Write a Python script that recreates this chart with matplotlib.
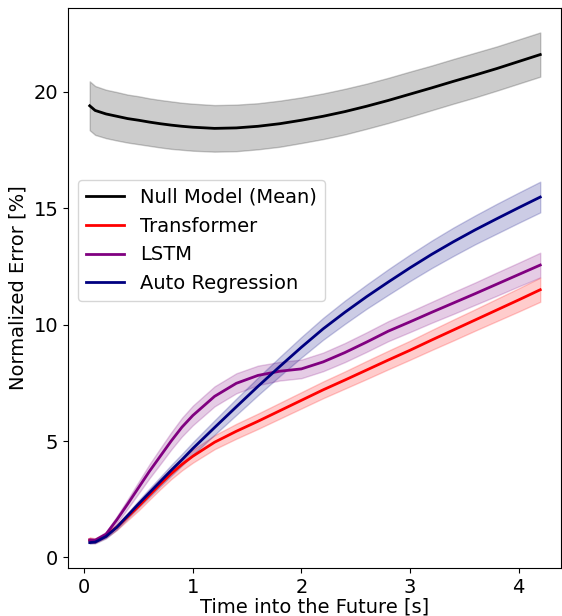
import matplotlib
matplotlib.use("Agg")
import matplotlib.pyplot as plt
import numpy as np

# time steps [s]
t = [0.05, 0.1, 0.2, 0.3, 0.4, 0.5, 0.6, 0.7, 0.8, 0.9, 1.0, 1.2, 1.4, 1.6,
     1.8, 2.0, 2.2, 2.4, 2.6, 2.8, 3.0, 3.2, 3.4, 3.6, 3.8, 4.0, 4.2]

# mean normalized error [%]
null_mean = [19.4, 19.2, 19.05, 18.95, 18.85, 18.78, 18.7, 18.63, 18.57, 18.52,
             18.48, 18.43, 18.45, 18.52, 18.63, 18.78, 18.95, 19.15, 19.38,
             19.63, 19.9, 20.17, 20.45, 20.72, 21.0, 21.3, 21.6]
trans_mean = [0.75, 0.72, 0.95, 1.3, 1.75, 2.2, 2.68, 3.15, 3.6, 4.0, 4.35, 4.95,
              5.42, 5.85, 6.3, 6.75, 7.2, 7.62, 8.05, 8.48, 8.9, 9.34, 9.77,
              10.2, 10.63, 11.06, 11.5]
lstm_mean = [0.75, 0.74, 1.0, 1.62, 2.3, 3.0, 3.7, 4.35, 5.0, 5.6, 6.1, 6.92,
             7.48, 7.82, 8.0, 8.1, 8.4, 8.8, 9.25, 9.72, 10.12, 10.53, 10.93,
             11.33, 11.74, 12.15, 12.56]
ar_mean = [0.64, 0.66, 0.9, 1.3, 1.8, 2.3, 2.78, 3.26, 3.74, 4.2, 4.68, 5.58,
           6.47, 7.35, 8.2, 9.03, 9.82, 10.53, 11.2, 11.83, 12.44, 13.02, 13.56,
           14.07, 14.55, 15.02, 15.48]

# spread (shaded band half-width)
null_std = [1.05, 1.05, 1.04, 1.04, 1.03, 1.03, 1.02, 1.02, 1.02, 1.01, 1.01,
            1.0, 1.0, 0.99, 0.99, 0.98, 0.98, 0.98, 0.97, 0.97, 0.97, 0.96,
            0.96, 0.96, 0.95, 0.95, 0.95]
trans_std = [0.12, 0.1, 0.1, 0.12, 0.15, 0.18, 0.2, 0.22, 0.24, 0.26, 0.28, 0.3,
             0.32, 0.33, 0.34, 0.35, 0.36, 0.37, 0.39, 0.4, 0.41, 0.43, 0.45,
             0.46, 0.48, 0.5, 0.52]
lstm_std = [0.08, 0.08, 0.1, 0.15, 0.2, 0.25, 0.3, 0.34, 0.37, 0.4, 0.42, 0.43,
            0.43, 0.42, 0.4, 0.4, 0.4, 0.41, 0.42, 0.43, 0.44, 0.45, 0.47,
            0.48, 0.5, 0.51, 0.53]
ar_std = [0.05, 0.05, 0.08, 0.1, 0.12, 0.15, 0.18, 0.2, 0.23, 0.25, 0.27, 0.31,
          0.35, 0.38, 0.41, 0.44, 0.47, 0.5, 0.52, 0.55, 0.57, 0.59, 0.61,
          0.62, 0.64, 0.65, 0.66]

series = [
    ("Null Model (Mean)", null_mean, null_std, "black"),
    ("Transformer", trans_mean, trans_std, "red"),
    ("LSTM", lstm_mean, lstm_std, "purple"),
    ("Auto Regression", ar_mean, ar_std, "navy"),
]

fig, ax = plt.subplots(figsize=(5.62, 6.16), dpi=100)
fig.subplots_adjust(left=0.121, right=0.998, top=0.987, bottom=0.078)

x = np.array(t)
for label, mean, std, color in series:
    m = np.array(mean)
    s = np.array(std)
    ax.fill_between(x, m - s, m + s, color=color, alpha=0.2)
    ax.plot(x, m, color=color, lw=2, label=label)

ax.set_xlim(-0.15, 4.39)
ax.set_ylim(-0.45, 23.6)
ax.set_xticks([0, 1, 2, 3, 4])
ax.set_yticks([0, 5, 10, 15, 20])
ax.tick_params(labelsize=14)
ax.set_xlabel("Time into the Future [s]", fontsize=14, labelpad=0.5)
ax.set_ylabel("Normalized Error [%]", fontsize=14)
ax.legend(fontsize=14, loc="upper left", bbox_to_anchor=(0.0, 0.71))

plt.savefig("out.png", dpi=100)
plt.close()
